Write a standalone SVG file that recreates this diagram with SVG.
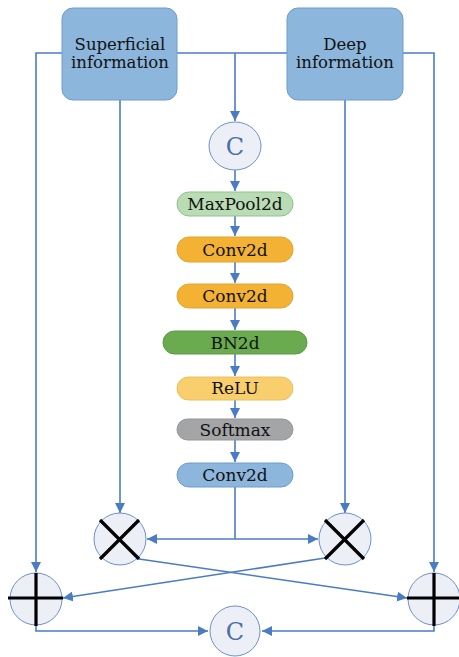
<svg xmlns="http://www.w3.org/2000/svg" width="459" height="657" viewBox="0 0 459 657">
<style>
.ln{fill:none;stroke:#4a7cc4;stroke-width:1.6}
.big{fill:#8db6dc;stroke:#6d9ccc;stroke-width:1}
.t{font-family:"DejaVu Serif","Liberation Serif",serif;fill:#111;text-anchor:middle}
.s{font-size:16.5px}
.m{font-size:17px}
.op{fill:#eceff6;stroke:#6f90c8;stroke-width:1}
.k{stroke:#000;stroke-width:3.2;fill:none}
.c{font-family:"DejaVu Serif","Liberation Serif",serif;fill:#4a6fa8;font-size:24px;text-anchor:middle}
</style>
<defs>
<marker id="ah" viewBox="0 0 10 10" refX="10" refY="5" markerWidth="10" markerHeight="10" markerUnits="userSpaceOnUse" orient="auto">
<path d="M0,0 L10,5 L0,10 Z" fill="#4a7cc4"/>
</marker>
</defs>
<rect width="459" height="657" fill="#fff"/>
<g id="connectors">
<path class="ln" d="M62,53 H36 V572" marker-end="url(#ah)"/>
<path class="ln" d="M403,53 H434 V572" marker-end="url(#ah)"/>
<path class="ln" d="M177,53 H287"/>
<path class="ln" d="M235,53 V121" marker-end="url(#ah)"/>
<path class="ln" d="M120,100 V513" marker-end="url(#ah)"/>
<path class="ln" d="M345,100 V513" marker-end="url(#ah)"/>
<path class="ln" d="M235,170 V191" marker-end="url(#ah)"/>
<path class="ln" d="M235,216 V236" marker-end="url(#ah)"/>
<path class="ln" d="M235,262 V283" marker-end="url(#ah)"/>
<path class="ln" d="M235,308 V330" marker-end="url(#ah)"/>
<path class="ln" d="M235,354 V376" marker-end="url(#ah)"/>
<path class="ln" d="M235,400 V418" marker-end="url(#ah)"/>
<path class="ln" d="M235,440 V462" marker-end="url(#ah)"/>
<path class="ln" d="M235,487 V539"/>
<path class="ln" d="M235,539 H147" marker-end="url(#ah)"/>
<path class="ln" d="M235,539 H318" marker-end="url(#ah)"/>
<path class="ln" d="M139,559 L407,598" marker-end="url(#ah)"/>
<path class="ln" d="M325,558 L63,598" marker-end="url(#ah)"/>
<path class="ln" d="M36,626 V631 H208" marker-end="url(#ah)"/>
<path class="ln" d="M434,626 V631 H262" marker-end="url(#ah)"/>
</g>
<g id="superficial">
<rect class="big" x="62" y="8" width="115" height="92" rx="11"/>
<text class="t s" x="120" y="50">Superficial</text>
<text class="t s" x="120" y="68">information</text>
</g>
<g id="deep">
<rect class="big" x="287" y="8" width="116" height="92" rx="11"/>
<text class="t s" x="345" y="50">Deep</text>
<text class="t s" x="345" y="68">information</text>
</g>
<g id="concat-top">
<ellipse class="op" cx="235" cy="146" rx="26" ry="24"/>
<text class="c" x="235" y="155">C</text>
</g>
<g id="maxpool">
<rect x="177" y="192" width="116" height="24" rx="12" fill="#b9dcb5" stroke="#94c08f"/>
<text class="t m" x="235" y="210">MaxPool2d</text>
</g>
<g id="conv1">
<rect x="177" y="237" width="116" height="25" rx="12" fill="#f3b234" stroke="#e0a530"/>
<text class="t m" x="235" y="256">Conv2d</text>
</g>
<g id="conv2">
<rect x="177" y="284" width="116" height="24" rx="12" fill="#f3b234" stroke="#e0a530"/>
<text class="t m" x="235" y="302">Conv2d</text>
</g>
<g id="bn">
<rect x="163" y="331" width="144" height="23" rx="11.5" fill="#6aab4f" stroke="#5c9a45"/>
<text class="t m" x="235" y="349">BN2d</text>
</g>
<g id="relu">
<rect x="177" y="377" width="116" height="23" rx="11.5" fill="#f8cf6c" stroke="#e8c060"/>
<text class="t m" x="235" y="394">ReLU</text>
</g>
<g id="softmax">
<rect x="177" y="419" width="116" height="21" rx="10.5" fill="#a4a5a7" stroke="#959698"/>
<text class="t m" x="235" y="436">Softmax</text>
</g>
<g id="conv3">
<rect x="177" y="463" width="116" height="24" rx="12" fill="#8db6dc" stroke="#6d9ccc"/>
<text class="t m" x="235" y="481">Conv2d</text>
</g>
<g id="mul-left">
<circle class="op" cx="120" cy="539" r="26"/>
<path class="k" d="M100,520 L139,559 M139,520 L100,559"/>
</g>
<g id="mul-right">
<circle class="op" cx="345" cy="539" r="26"/>
<path class="k" d="M325,520 L364,559 M364,520 L325,559"/>
</g>
<g id="add-left">
<circle class="op" cx="36" cy="599" r="26"/>
<path class="k" d="M8,598 H63 M36,573 V626"/>
</g>
<g id="add-right">
<circle class="op" cx="434" cy="599" r="26"/>
<path class="k" d="M407,598 H459 M434,573 V626"/>
</g>
<g id="concat-bottom">
<circle class="op" cx="235" cy="631" r="25"/>
<text class="c" x="235" y="640">C</text>
</g>
</svg>
